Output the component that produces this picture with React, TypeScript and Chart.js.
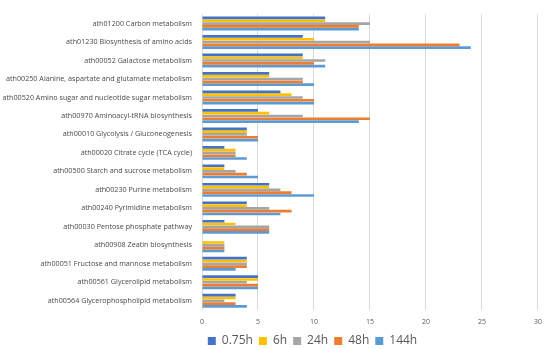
import React, { useEffect, useRef } from "react";
import { Chart, registerables } from "chart.js";

Chart.register(...registerables);

const categories = [
  "ath01200 Carbon metabolism",
  "ath01230 Biosynthesis of amino acids",
  "ath00052 Galactose metabolism",
  "ath00250 Alanine, aspartate and glutamate metabolism",
  "ath00520 Amino sugar and nucleotide sugar metabolism",
  "ath00970 Aminoacyl-tRNA biosynthesis",
  "ath00010 Glycolysis / Gluconeogenesis",
  "ath00020 Citrate cycle (TCA cycle)",
  "ath00500 Starch and sucrose metabolism",
  "ath00230 Purine metabolism",
  "ath00240 Pyrimidine metabolism",
  "ath00030 Pentose phosphate pathway",
  "ath00908 Zeatin biosynthesis",
  "ath00051 Fructose and mannose metabolism",
  "ath00561 Glycerolipid metabolism",
  "ath00564 Glycerophospholipid metabolism",
];

const seriesNames = ["0.75h", "6h", "24h", "48h", "144h"];

const h075 = [11, 9, 9, 6, 7, 5, 4, 2, 2, 6, 4, 2, 0, 4, 5, 3];
const h6 = [11, 10, 9, 6, 8, 6, 4, 3, 2, 6, 4, 3, 2, 4, 5, 3];
const h24 = [15, 15, 11, 9, 9, 9, 4, 3, 3, 7, 6, 6, 2, 4, 4, 2];
const h48 = [14, 23, 10, 9, 10, 15, 5, 3, 4, 8, 8, 6, 2, 4, 5, 3];
const h144 = [14, 24, 11, 10, 10, 14, 5, 4, 5, 10, 7, 6, 2, 3, 5, 4];

const xTicks = [0, 5, 10, 15, 20, 25, 30];

const colors = ["#4472C4", "#FFC000", "#A5A5A5", "#ED7D31", "#5B9BD5"];

export default function App() {
  const ref = useRef<HTMLCanvasElement | null>(null);

  useEffect(() => {
    if (!ref.current) return;
    const values = [h075, h6, h24, h48, h144];
    const legendShift = {
      id: "legendShift",
      afterLayout(chart: any) {
        const lg = chart.legend;
        if (lg) {
          lg.left += 38;
          lg.right += 38;
        }
      },
    };
    const chart = new Chart(ref.current, {
      type: "bar",
      data: {
        labels: categories,
        datasets: seriesNames.map((name, i) => ({
          label: name,
          data: values[i],
          backgroundColor: colors[i],
          borderWidth: 0,
          categoryPercentage: 0.76,
          barPercentage: 0.95,
        })),
      },
      options: {
        indexAxis: "y",
        animation: false,
        responsive: true,
        maintainAspectRatio: false,
        layout: { padding: { top: 3, right: 1, left: 0, bottom: 0 } },
        scales: {
          x: {
            min: 0,
            max: 30,
            afterBuildTicks(scale: any) {
              scale.ticks = xTicks.map((v) => ({ value: v }));
            },
            afterFit(scale: any) {
              scale.height = 19;
            },
            grid: { color: "#D9D9D9", lineWidth: 1, drawTicks: false },
            border: { display: false },
            ticks: {
              color: "#595959",
              font: { family: "Open Sans", size: 7 },
              padding: 8,
            },
          },
          y: {
            afterFit(scale: any) {
              scale.width = 202;
            },
            grid: { display: false, drawTicks: false },
            border: { display: false },
            ticks: {
              color: "#4a4a4a",
              font: { family: "Open Sans", size: 7.2 },
              padding: 10,
              autoSkip: false,
            },
          },
        },
        plugins: {
          legend: {
            position: "bottom",
            maxHeight: 20,
            labels: {
              boxWidth: 8,
              boxHeight: 8,
              color: "#595959",
              font: { family: "Open Sans", size: 12 },
              padding: 6,
            },
          },
          tooltip: { enabled: false },
        },
      },
      plugins: [legendShift],
    });
    return () => chart.destroy();
  }, []);

  return (
    <div
      style={{
        position: "fixed",
        left: 0,
        top: 0,
        width: 550,
        height: 349,
        background: "#fff",
      }}
    >
      <canvas ref={ref} />
    </div>
  );
}
